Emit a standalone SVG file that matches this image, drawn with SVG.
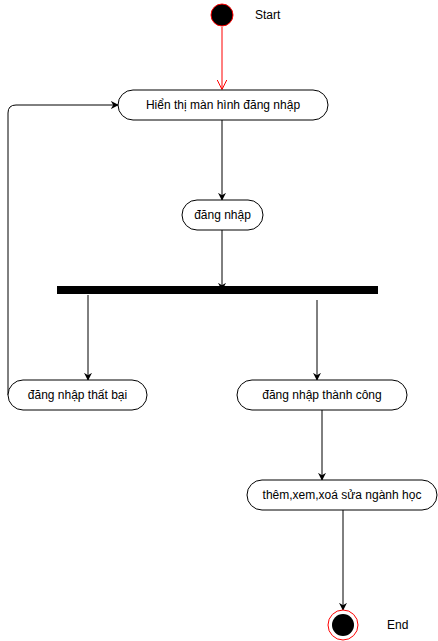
<svg xmlns="http://www.w3.org/2000/svg" width="438" height="641" viewBox="0 0 438 641">
<style>
.n{fill:#fff;stroke:#000;stroke-width:1}
.t{font-family:"Liberation Sans",Arial,sans-serif;font-size:12px;fill:#000;text-anchor:middle;dominant-baseline:central}
.l{font-family:"Liberation Sans",Arial,sans-serif;font-size:12px;fill:#000;dominant-baseline:central}
.c{fill:none;stroke:#000;stroke-width:1}
</style>
<defs>
<marker id="a" viewBox="0 0 10 10" refX="9" refY="5" markerWidth="8" markerHeight="8" markerUnits="userSpaceOnUse" orient="auto"><path d="M0,0 L10,5 L0,10 L3,5 Z" fill="#000"/></marker>
<marker id="r" viewBox="0 0 10 10" refX="9.5" refY="5" markerWidth="10" markerHeight="10" markerUnits="userSpaceOnUse" orient="auto"><path d="M0,0 L10,5 L0,10" fill="none" stroke="#f00" stroke-width="1"/></marker>
</defs>
<g id="connectors">
<line x1="222" y1="27" x2="222" y2="89" stroke="#f00" marker-end="url(#r)"/>
<line class="c" x1="222" y1="120" x2="222" y2="200" marker-end="url(#a)"/>
<line class="c" x1="222" y1="230" x2="222" y2="290" marker-end="url(#a)"/>
<line class="c" x1="88" y1="295" x2="88" y2="380" marker-end="url(#a)"/>
<line class="c" x1="317" y1="300" x2="317" y2="380" marker-end="url(#a)"/>
<line class="c" x1="322" y1="410" x2="322" y2="480" marker-end="url(#a)"/>
<line class="c" x1="343" y1="510" x2="343" y2="610" marker-end="url(#a)"/>
<path class="c" d="M8,395 L8,113 Q8,105 16,105 L118,105" marker-end="url(#a)"/>
</g>
<g id="start">
<circle cx="222" cy="15" r="11" fill="#000" stroke="#f00" stroke-width="1"/>
<text class="l" x="255" y="15">Start</text>
</g>
<g id="hienthi">
<rect class="n" x="118" y="90" width="210" height="30" rx="15" ry="15"/>
<text class="t" x="223" y="105">Hiển thị màn hình đăng nhập</text>
</g>
<g id="dangnhap">
<rect class="n" x="182" y="200" width="81" height="30" rx="15" ry="15"/>
<text class="t" x="222.5" y="215">đăng nhập</text>
</g>
<g id="fork">
<rect x="57" y="286" width="321" height="8" fill="#000"/>
</g>
<g id="thatbai">
<rect class="n" x="8" y="380" width="139" height="30" rx="15" ry="15"/>
<text class="t" x="77.5" y="395">đăng nhập thất bại</text>
</g>
<g id="thanhcong">
<rect class="n" x="237" y="380" width="170" height="30" rx="15" ry="15"/>
<text class="t" x="322" y="395">đăng nhập thành công</text>
</g>
<g id="them">
<rect class="n" x="247" y="480" width="190" height="30" rx="15" ry="15"/>
<text class="t" x="342" y="495">thêm,xem,xoá sửa ngành học</text>
</g>
<g id="end">
<circle cx="343" cy="625" r="15" fill="#fff" stroke="#f00" stroke-width="1"/>
<circle cx="343" cy="625" r="11" fill="#000"/>
<text class="l" x="387" y="625">End</text>
</g>
</svg>
